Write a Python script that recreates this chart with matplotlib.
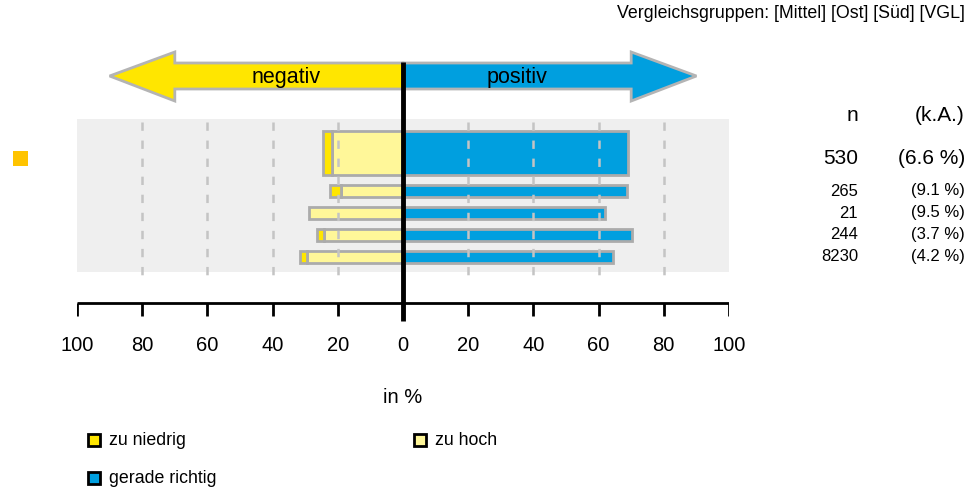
import matplotlib.pyplot as plt
from matplotlib.patches import Polygon, Rectangle

plt.rcParams['font.family'] = ['Liberation Sans', 'DejaVu Sans']
plt.rcParams['lines.scale_dashes'] = False

# data (percent)
zu_niedrig = [2.6, 3.4, 0.0, 2.0, 2.0]
zu_hoch = [21.9, 19.0, 28.7, 24.3, 29.6]
gerade_richtig = [69.1, 68.8, 62.0, 70.3, 64.5]
n_vals = ['530', '265', '21', '244', '8230']
ka_vals = ['(6.6 %)', '(9.1 %)', '(9.5 %)', '(3.7 %)', '(4.2 %)']
ticks = [-100, -80, -60, -40, -20, 0, 20, 40, 60, 80, 100]
tick_labels = ['100', '80', '60', '40', '20', '0', '20', '40', '60', '80', '100']

# colours
c_dark = '#ffe600'
c_light = '#fff799'
c_blue = '#009fdf'
c_edge = '#ababab'
c_bg = '#efefef'

W, H = 973, 490
fig = plt.figure(figsize=(W / 100, H / 100), dpi=100)
# axes spanning full height, y in pixel units
ax = fig.add_axes([77 / W, 0, 652 / W, 1])
ax.set_xlim(-100, 100)
ax.set_ylim(H, 0)
ax.axis('off')

def fx(px):
    return px / W

def fy(py):
    return 1 - py / H

# gray background
ax.add_patch(Rectangle((-100, 119), 200, 153, facecolor=c_bg, edgecolor='none', zorder=0))

# bar rows (centre y, height) in pixels
rows = [(153, 44), (191, 12), (213, 12), (234.5, 12), (256.5, 12)]
for i, (yc, h) in enumerate(rows):
    lw = 2.0
    left = -(zu_niedrig[i] + zu_hoch[i])
    ax.barh(yc, zu_hoch[i], left=-zu_hoch[i], height=h, color=c_light,
            edgecolor=c_edge, linewidth=lw, zorder=2)
    if zu_niedrig[i] > 0:
        ax.barh(yc, zu_niedrig[i], left=left, height=h, color=c_dark,
                edgecolor=c_edge, linewidth=lw, zorder=2)
    ax.barh(yc, gerade_richtig[i], left=0, height=h, color=c_blue,
            edgecolor=c_edge, linewidth=lw, zorder=2)

# dashed grid lines
for t in ticks:
    if t in (-100, 0, 100):
        continue
    ax.plot([t, t], [122, 283], color='#c4c4c4', lw=1.8, dashes=(6, 7),
            zorder=3, solid_capstyle='butt')

# arrows
left_arrow = [(0, 63), (-70, 63), (-70, 52), (-90, 76), (-70, 101), (-70, 89), (0, 89)]
right_arrow = [(0, 63), (70, 63), (70, 52), (90, 76), (70, 101), (70, 89), (0, 89)]
ax.add_patch(Polygon(left_arrow, closed=True, facecolor=c_dark, edgecolor='#b4b4b4',
                     lw=2, zorder=2, joinstyle='miter'))
ax.add_patch(Polygon(right_arrow, closed=True, facecolor=c_blue, edgecolor='#b4b4b4',
                     lw=2, zorder=2, joinstyle='miter'))
ax.text(-36, 77, 'negativ', ha='center', va='center', fontsize=15.5, zorder=4)
ax.text(35, 77, 'positiv', ha='center', va='center', fontsize=15.5, zorder=4)

# zero line
ax.plot([0, 0], [62, 321], color='black', lw=3.5, zorder=5, solid_capstyle='butt')

# x axis
ax.plot([-100, 100], [303, 303], color='black', lw=2, zorder=4, solid_capstyle='butt')
for t, lab in zip(ticks, tick_labels):
    if t != 0:
        ax.plot([t, t], [303, 316], color='black', lw=2, zorder=4, solid_capstyle='butt')
    ax.text(t, 345, lab, ha='center', va='center', fontsize=14.5)
ax.text(0, 397, 'in %', ha='center', va='center', fontsize=14.5)

# title
fig.text(fx(965), fy(13), 'Vergleichsgruppen: [Mittel] [Ost] [Süd] [VGL]',
         ha='right', va='center', fontsize=12.8)

# right side columns
fig.text(fx(858), fy(115), 'n', ha='right', va='center', fontsize=15)
fig.text(fx(965), fy(115), '(k.A.)', ha='right', va='center', fontsize=15)
for i, (yc, h) in enumerate(rows):
    fs = 15 if i == 0 else 12
    ty = yc + 6 if i == 0 else yc
    fig.text(fx(858), fy(ty), n_vals[i], ha='right', va='center', fontsize=fs)
    fig.text(fx(965), fy(ty), ka_vals[i], ha='right', va='center', fontsize=fs)

# marker square
fig.patches.append(Rectangle((fx(13), fy(166)), 15 / W, 15 / H, transform=fig.transFigure,
                             facecolor='#ffc400', edgecolor='none'))

# legend
legend_items = [('zu niedrig', c_dark, 88, 440), ('zu hoch', c_light, 414, 440),
                ('gerade richtig', c_blue, 88, 478)]
for lab, col, x0, y0 in legend_items:
    fig.patches.append(Rectangle((fx(x0), fy(y0 + 6)), 12 / W, 12 / H, transform=fig.transFigure,
                                 facecolor=col, edgecolor='black', lw=2))
    fig.text(fx(x0 + 21), fy(y0), lab, ha='left', va='center', fontsize=12.8)

fig.savefig('out.png', dpi=100)
